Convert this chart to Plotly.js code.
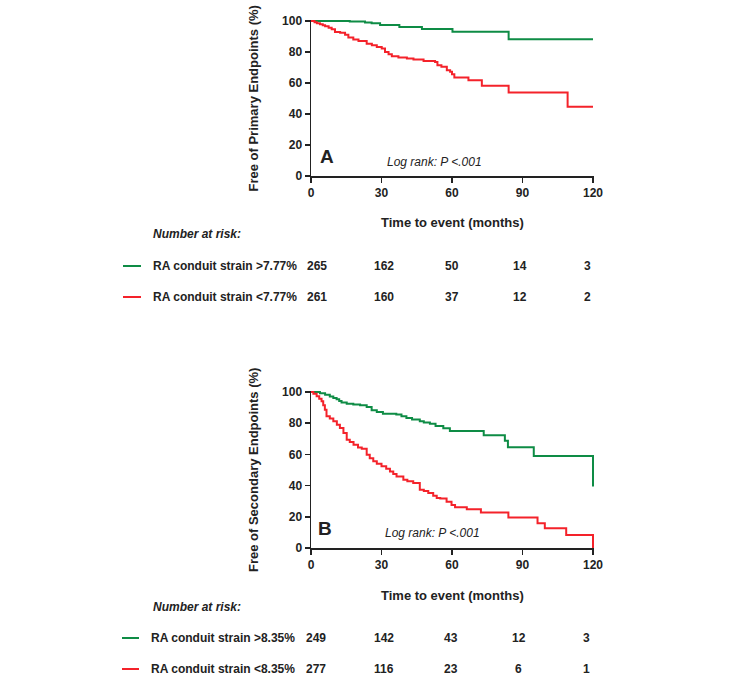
<!DOCTYPE html>
<html>
<head>
<meta charset="utf-8">
<script src="https://cdn.plot.ly/plotly-3.0.1.min.js"></script>
<style>html,body{margin:0;padding:0;background:#fff;}#chart{width:732px;height:677px;}</style>
</head>
<body>
<div id="chart"></div>
<script>
// ---- Data ----
const xTicks = [0, 30, 60, 90, 120];

const primaryHighT = [0, 16.5, 23, 25.8, 29.4, 37.6, 47.2, 60.2, 84.1, 120];
const primaryHighS = [100, 99.6, 99.1, 98.6, 97.5, 96.2, 94.9, 93.1, 88.3, 88.3];

const primaryLowT = [0, 1.5, 2.5, 3.8, 5, 6, 7.5, 8.8, 10.2, 12.4, 14.5, 15.9, 18, 20.2, 23.7, 25.9, 28, 30.1, 31.5, 33, 34.4, 37.2, 40.8, 43.6, 47.9, 52.8, 53.8, 55.5, 57.8, 59.2, 60, 61, 67, 72.7, 84.1, 109.2, 120];
const primaryLowS = [100, 99.2, 98.6, 97.9, 97.2, 96.6, 95.6, 94.6, 92.9, 92.5, 91.2, 89.3, 88, 87.1, 85.4, 84.3, 83.3, 82.2, 80, 78.5, 77.3, 76.4, 75.8, 75.1, 74.2, 73.6, 71.5, 70.5, 68.2, 67.2, 65.7, 63.5, 61.8, 58.2, 53.9, 44.6, 44.6];

const secondaryHighT = [0, 3.8, 6, 8, 9.5, 10.9, 12, 13, 15.2, 18, 20.9, 23.7, 25.8, 28, 30.6, 36.3, 38.5, 40.6, 43, 46.3, 48, 50.6, 53, 56.3, 59.1, 73.5, 82.5, 83.8, 94.8, 120];
const secondaryHighS = [100, 99.2, 98.3, 97.1, 96.2, 95.4, 94.3, 93.3, 92.5, 92, 91.5, 90.4, 88.3, 87.2, 86.1, 85.5, 84.5, 83.4, 82.3, 81.2, 80.5, 79.7, 78.2, 76.8, 75, 72.3, 68.8, 64.6, 59, 39.5];

const secondaryLowT = [0, 1, 2.4, 3.5, 4.5, 5.2, 5.9, 6.6, 8, 9.5, 11, 12.3, 13.8, 15.2, 16.5, 18.1, 20, 21.6, 23.7, 25, 26.5, 28, 30, 32, 33.6, 35, 36.4, 39.3, 41, 43.5, 46.3, 48, 49.9, 52, 53.5, 55, 57.7, 59.8, 61.3, 66.3, 72.3, 84, 96.4, 99.5, 108.6, 120];
const secondaryLowS = [100, 98.8, 97.2, 95.6, 94, 91.5, 88.7, 84.4, 83, 81.2, 79, 76.9, 73.7, 69.4, 68, 66.2, 64.5, 63.7, 59.8, 57.5, 55.6, 54, 52.4, 50.8, 49.1, 47.5, 45.9, 43.8, 42.8, 41.7, 37.4, 36.5, 35.3, 33.5, 32.1, 31.8, 29.7, 27.6, 26.1, 24.8, 22.8, 19.5, 15.9, 12.7, 8.4, 0];

const labelsA = ["RA conduit strain >7.77%", "RA conduit strain <7.77%"];
const riskA_high = [265, 162, 50, 14, 3];
const riskA_low = [261, 160, 37, 12, 2];

const labelsB = ["RA conduit strain >8.35%", "RA conduit strain <8.35%"];
const riskB_high = [249, 142, 43, 12, 3];
const riskB_low = [277, 116, 23, 6, 1];

const titlesY = ["Free of Primary Endpoints (%)", "Free of Secondary Endpoints (%)"];
const titleX = "Time to event (months)";
const panelLetters = ["A", "B"];
const pText = "Log rank: P <.001";

// ---- Styling ----
const W = 732, H = 677;
const GREEN = '#0e8c45', RED = '#f4222a', INK = '#222222';
const FAM = 'Liberation Sans, Arial, sans-serif';
const px = x => x / W;
const py = y => 1 - y / H;

function kmTrace(t, s, color, xa, ya) {
  return {x: t, y: s, xaxis: xa, yaxis: ya, type: 'scatter', mode: 'lines',
    line: {shape: 'hv', color: color, width: 2}, hoverinfo: 'skip', showlegend: false};
}

const data = [
  kmTrace(primaryHighT, primaryHighS, GREEN, 'x', 'y'),
  kmTrace(primaryLowT, primaryLowS, RED, 'x', 'y'),
  kmTrace(secondaryHighT, secondaryHighS, GREEN, 'x2', 'y2'),
  kmTrace(secondaryLowT, secondaryLowS, RED, 'x2', 'y2')
];

const tickFont = {family: FAM, size: 12, color: INK, weight: 'bold'};
function xAxis(anchor) {
  return {domain: [px(311), px(594.4)], range: [0, 120.6], anchor: anchor,
    tickvals: xTicks, ticktext: xTicks.map(String), ticks: 'outside', ticklen: 5, tickwidth: 1.5,
    tickcolor: INK, showline: true, linecolor: INK, linewidth: 1.5, showgrid: false, zeroline: false,
    tickfont: tickFont, fixedrange: true};
}
function yAxis(anchor, dom) {
  return {domain: dom, range: [0, 100.8], anchor: anchor,
    tickvals: [0, 20, 40, 60, 80, 100], ticks: 'outside', ticklen: 5, tickwidth: 1.5,
    tickcolor: INK, showline: true, linecolor: INK, linewidth: 1.5, showgrid: false, zeroline: false,
    tickfont: tickFont, fixedrange: true};
}

const annotations = [];
const shapes = [];
function ann(text, x, y, opts) {
  annotations.push(Object.assign({text: text, xref: 'paper', yref: 'paper', x: px(x), y: py(y),
    showarrow: false, xanchor: 'center', yanchor: 'middle',
    font: {family: FAM, size: 12, color: INK}}, opts || {}));
}

function panel(idx, plotTop, plotBot, xTitleY, tableTop, labelX, lineX0, lineX1, rowsY, labels, risks) {
  ann(titlesY[idx], 253, (plotTop + plotBot) / 2, {textangle: -90, font: {family: FAM, size: 13, color: INK, weight: 'bold'}});
  ann(titleX, 452, xTitleY, {font: {family: FAM, size: 13, color: INK, weight: 'bold'}});
  ann(panelLetters[idx], idx === 0 ? 327 : 325, idx === 0 ? 156 : 528, {font: {family: FAM, size: 19, color: INK, weight: 'bold'}});
  ann(pText, idx === 0 ? 434 : 432, idx === 0 ? 162 : 533, {font: {family: FAM, size: 12, color: INK, style: 'italic'}});
  ann('Number at risk:', 151, tableTop, {xanchor: 'left', font: {family: FAM, size: 12, color: INK, weight: 'bold', style: 'italic'}});
  const colors = [GREEN, RED];
  for (let r = 0; r < 2; r++) {
    shapes.push({type: 'line', xref: 'paper', yref: 'paper', x0: px(lineX0), x1: px(lineX1), y0: py(rowsY[r]), y1: py(rowsY[r]),
      line: {color: colors[r], width: 2}});
    ann(labels[r], labelX, rowsY[r], {xanchor: 'left', font: {family: FAM, size: 12, color: INK, weight: 'bold'}});
    risks[r].forEach((v, i) => {
      ann(String(v), (idx === 0 ? 317 : 316) + i * 67.5, rowsY[r], {font: {family: FAM, size: 12, color: INK, weight: 'bold'}});
    });
  }
}

panel(0, 21, 176, 222, 234, 151, 123, 141, [266, 297], labelsA, [riskA_high, riskA_low]);
panel(1, 392, 548, 595, 607, 149, 122, 139, [638, 669], labelsB, [riskB_high, riskB_low]);

const layout = {
  width: W, height: H, margin: {l: 0, r: 0, t: 0, b: 0},
  paper_bgcolor: '#ffffff', plot_bgcolor: 'rgba(0,0,0,0)',
  showlegend: false,
  xaxis: xAxis('y'),
  yaxis: yAxis('x', [py(176), py(19.76)]),
  xaxis2: xAxis('y2'),
  yaxis2: yAxis('x2', [py(548), py(390.75)]),
  annotations: annotations,
  shapes: shapes,
  font: {family: FAM}
};

Plotly.newPlot('chart', data, layout, {displayModeBar: false, staticPlot: true});
</script>
</body>
</html>
